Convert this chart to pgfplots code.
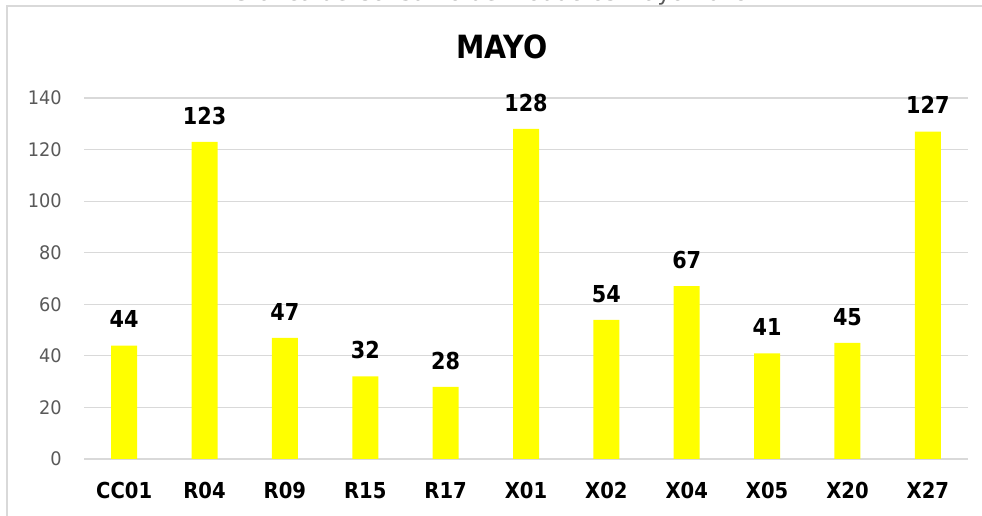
\documentclass[border=0pt]{standalone}
\usepackage{fontspec}
\setmainfont{DejaVu Sans}
\newfontfamily\lblfont{DejaVu Sans}[FakeStretch=0.89]
\newfontfamily\tickfont{DejaVu Sans}[FakeStretch=0.95]
\usepackage{pgfplots}
\pgfplotsset{compat=1.18}
\definecolor{gridgray}{HTML}{D9D9D9}
\definecolor{ticktxt}{HTML}{595959}
\definecolor{baryellow}{HTML}{FFFF00}
\begin{document}
\begin{tikzpicture}
% chart frame
\draw[gridgray, line width=0.9pt] (5.25pt,-5pt) -- (5.25pt,382.5pt) -- (745pt,382.5pt);
% document title (cut off at the top, as in the reference)
\node[anchor=base, text=ticktxt, font=\fontsize{17}{20}\selectfont, inner sep=0pt] at (368pt,386.8pt) {Gráfica de Consumo de Productos Mayo 2019};
\begin{axis}[
  at={(63pt,42.75pt)}, anchor=south west,
  width=663pt, height=270.75pt, scale only axis,
  xmin=-0.5, xmax=10.5, ymin=0, ymax=140,
  axis line style={draw=none},
  major tick length=0pt,
  xtick={0,...,10},
  xticklabels={CC01,R04,R09,R15,R17,X01,X02,X04,X05,X20,X27},
  ytick={0,20,...,140},
  ymajorgrids, grid style={gridgray, line width=0.9pt},
  /pgf/number format/assume math mode=true,
  xticklabel style={anchor=base, inner sep=0pt, yshift=-29.3pt, font=\fontsize{16.5}{19}\lblfont\bfseries, text=black},
  yticklabel style={anchor=east, inner sep=0pt, xshift=-16.5pt, font=\fontsize{14}{16}\tickfont, text=ticktxt},
  ybar, bar width=19.5pt,
  nodes near coords,
  every node near coord/.append style={anchor=base, inner sep=0pt, yshift=13.3pt, font=\fontsize{17.5}{20}\lblfont\bfseries, text=black},
  clip=false,
]
\addplot[fill=baryellow, draw=none] coordinates {
(0,44) (1,123) (2,47) (3,32) (4,28) (5,128) (6,54) (7,67) (8,41) (9,45) (10,127)};
\end{axis}
\node[anchor=base, font=\fontsize{24}{28}\lblfont\bfseries, inner sep=0pt] at (376.5pt,342.75pt) {MAYO};
\pgfresetboundingbox
\path[use as bounding box] (0,0) rectangle (736.5pt,387pt);
\end{tikzpicture}
\end{document}
